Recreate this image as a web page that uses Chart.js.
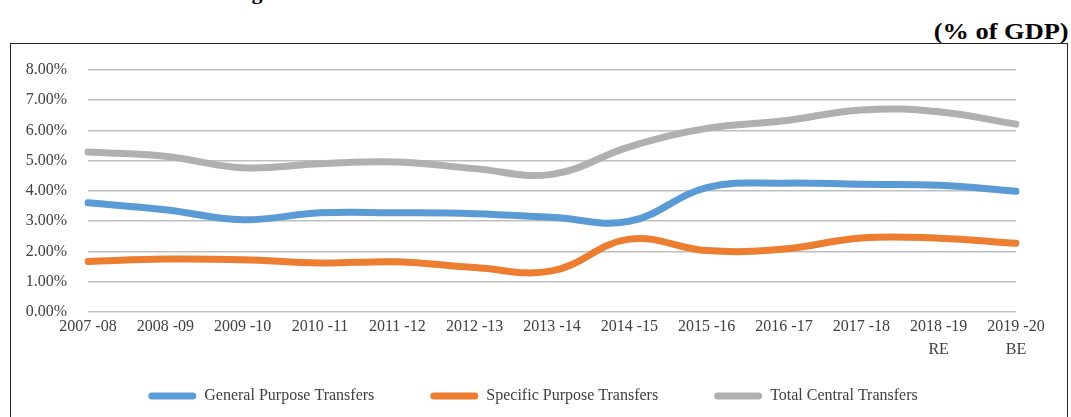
<!DOCTYPE html>
<html>
<head>
<meta charset="utf-8">
<script src="https://cdn.jsdelivr.net/npm/chart.js@4"></script>
<style>
  html, body { margin: 0; padding: 0; background: #ffffff; }
  body { width: 1071px; height: 417px; overflow: hidden; position: relative; font-family: "Liberation Serif", "DejaVu Serif", serif; }
  #title { position: absolute; left: 232px; top: -19px; font-weight: bold; font-size: 22px; line-height: 22px; color: #000; white-space: nowrap; }
  #unit { position: absolute; right: 2px; top: 17px; font-weight: bold; font-size: 24px; line-height: 28px; color: #000; transform: scaleX(1.1); transform-origin: right center; }
  #box { position: absolute; left: 10px; top: 43px; width: 1056px; height: 400px; border: 1.5px solid #262626; }
  #wrap { position: absolute; left: 12px; top: 46px; width: 1042px; height: 371px; }
</style>
</head>
<body>
<div id="title">Figure 3.1: Trends in Central Transfers to States in India</div>
<div id="unit">(% of GDP)</div>
<div id="box"></div>
<div id="wrap"><canvas id="c"></canvas></div>
<script>
const categories = ['2007 -08', '2008 -09', '2009 -10', '2010 -11', '2011 -12', '2012 -13', '2013 -14', '2014 -15', '2015 -16', '2016 -17', '2017 -18', ['2018 -19', 'RE'], ['2019 -20', 'BE']];
const generalPurpose = [3.61, 3.38, 3.05, 3.28, 3.28, 3.25, 3.13, 3.00, 4.11, 4.26, 4.22, 4.19, 3.99];
const specificPurpose = [1.67, 1.75, 1.73, 1.62, 1.66, 1.47, 1.36, 2.41, 2.03, 2.08, 2.45, 2.44, 2.27];
const totalCentral = [5.29, 5.15, 4.77, 4.90, 4.96, 4.74, 4.55, 5.46, 6.07, 6.32, 6.68, 6.62, 6.21];
const seriesNames = ['General Purpose Transfers', 'Specific Purpose Transfers', 'Total Central Transfers'];
const seriesColors = ['#5B9BD5', '#ED7D31', '#B0B0B0'];
const yTicks = [0, 1, 2, 3, 4, 5, 6, 7, 8];

const fontFamily = '"Liberation Serif", "Times New Roman", serif';
const seriesData = [generalPurpose, specificPurpose, totalCentral];

const datasets = seriesData.map((d, i) => ({
  label: seriesNames[i],
  data: d,
  borderColor: seriesColors[i],
  backgroundColor: seriesColors[i],
  borderWidth: 7,
  borderCapStyle: 'round',
  borderJoinStyle: 'round',
  pointRadius: 0,
  pointHoverRadius: 0,
  tension: 0.4,
  fill: false,
  yAxisID: 'y'
}));

// let the x-axis labels (two-line ticks) draw below the compact axis box
const extendXLabelArea = {
  id: 'extendXLabelArea',
  beforeDraw(chart) {
    const x = chart.scales.x;
    if (x) { x.bottom = x.top + 60; }
  }
};

new Chart(document.getElementById('c'), {
  type: 'line',
  data: { labels: categories, datasets: datasets },
  plugins: [extendXLabelArea],
  options: {
    responsive: true,
    maintainAspectRatio: false,
    animation: false,
    layout: { padding: { top: 24, right: 0, left: 0, bottom: 3 } },
    plugins: {
      tooltip: { enabled: false },
      legend: {
        position: 'bottom',
        labels: {
          font: { family: fontFamily, size: 16 },
          color: '#404040',
          boxWidth: 48,
          boxHeight: 7,
          padding: 56,
          useBorderRadius: true,
          borderRadius: 3.5,
          generateLabels: (chart) => chart.data.datasets.map((ds, i) => ({
            text: ds.label,
            fillStyle: ds.borderColor,
            strokeStyle: ds.borderColor,
            lineWidth: 0,
            borderRadius: 3.5,
            hidden: false,
            datasetIndex: i,
            fontColor: '#404040'
          }))
        }
      }
    },
    scales: {
      x: {
        offset: false,
        grid: { display: false, drawTicks: false },
        border: { display: false },
        ticks: {
          autoSkip: false,
          maxRotation: 0,
          padding: 4,
          color: '#404040',
          font: { family: fontFamily, size: 16, lineHeight: 1.4 }
        },
        afterFit: (s) => { s.height = 20; }
      },
      y: {
        min: 0,
        max: 8,
        afterBuildTicks: (s) => { s.ticks = yTicks.map(v => ({ value: v })); },
        grid: { color: '#BFBFBF', lineWidth: 1.6, drawTicks: false },
        border: { display: false },
        ticks: {
          padding: 21,
          color: '#404040',
          font: { family: fontFamily, size: 16 },
          callback: (v) => Number(v).toFixed(2) + '%'
        },
        afterFit: (s) => { s.width = 76; s.paddingTop = 0; s.paddingBottom = 0; }
      },
      yRight: {
        type: 'linear',
        position: 'right',
        grid: { display: false, drawTicks: false },
        border: { display: false },
        ticks: { display: false },
        afterFit: (s) => { s.width = 38; s.paddingTop = 0; s.paddingBottom = 0; }
      }
    }
  }
});
</script>
</body>
</html>
